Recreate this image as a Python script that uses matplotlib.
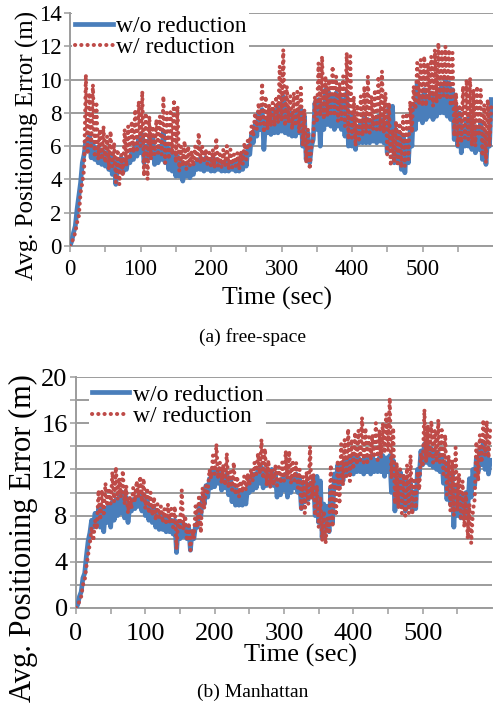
import numpy as np
import matplotlib
matplotlib.use("Agg")
import matplotlib.pyplot as plt

plt.rcParams['font.family'] = ['Liberation Serif', 'DejaVu Serif']

# time axis (sec), one envelope value every 5 s
t = np.arange(0, 600, 5)

# (a) free-space: low / high envelope of the fast oscillating error
fs_wo_lo = [0.0, 0.8, 2.2, 3.8, 5.5, 5.8, 5.3, 5.2, 5.0, 4.9,
            4.8, 4.6, 4.3, 3.7, 4.5, 4.4, 4.6, 5.0, 5.2, 5.4,
            5.6, 5.0, 5.2, 5.6, 4.9, 5.0, 5.2, 5.0, 4.6, 4.5,
            4.2, 4.2, 3.9, 4.2, 4.1, 4.3, 4.6, 4.6, 4.5, 4.6,
            4.5, 4.5, 4.6, 4.5, 4.5, 4.5, 4.6, 4.5, 4.5, 4.6,
            4.8, 5.5, 6.2, 6.6, 7.0, 5.8, 6.8, 6.7, 6.8, 6.8,
            6.9, 6.8, 6.7, 6.6, 6.6, 6.8, 6.0, 5.2, 5.0, 6.4,
            7.0, 6.0, 7.0, 7.3, 7.2, 7.0, 7.2, 7.0, 6.6, 6.0,
            6.0, 5.8, 6.2, 6.2, 6.2, 6.2, 6.3, 6.2, 6.3, 6.2,
            5.6, 6.0, 5.0, 5.0, 4.6, 4.4, 5.0, 6.0, 7.0, 7.6,
            7.4, 7.6, 7.8, 7.6, 7.8, 8.0, 8.0, 7.8, 7.6, 6.4,
            6.0, 5.6, 6.0, 6.0, 5.8, 5.6, 5.8, 5.2, 4.9, 6.0]
fs_wo_hi = [0.3, 1.2, 3.0, 5.0, 6.3, 6.6, 6.2, 5.9, 5.8, 5.7,
            5.6, 5.4, 5.3, 5.0, 5.3, 5.2, 5.3, 5.6, 6.0, 6.5,
            6.7, 6.0, 6.4, 6.6, 5.7, 6.0, 6.9, 6.0, 5.8, 5.6,
            5.4, 5.0, 4.8, 4.9, 4.7, 5.0, 5.2, 5.2, 5.3, 5.2,
            5.3, 5.2, 5.1, 5.0, 5.2, 5.0, 5.1, 5.1, 5.2, 5.6,
            6.0, 6.7, 7.3, 8.0, 8.2, 7.6, 7.8, 8.0, 8.2, 8.4,
            9.0, 8.2, 8.0, 7.8, 8.0, 8.2, 7.8, 6.8, 6.0, 8.6,
            8.8, 8.5, 9.4, 9.2, 9.0, 9.2, 9.0, 8.8, 9.2, 8.0,
            7.8, 7.0, 7.4, 7.8, 7.6, 7.5, 7.6, 7.8, 7.6, 7.4,
            8.4, 8.4, 7.0, 6.8, 6.6, 6.2, 7.0, 8.5, 9.8, 9.0,
            9.4, 9.0, 9.2, 9.0, 9.4, 9.6, 10.0, 9.8, 9.4, 8.4,
            8.0, 7.2, 7.6, 7.8, 7.2, 7.0, 7.4, 6.8, 6.6, 8.8]
fs_w_lo = [0.0, 0.5, 1.4, 3.2, 4.6, 5.5, 6.0, 5.5, 5.2, 5.2,
           5.0, 4.6, 4.8, 3.8, 3.7, 4.2, 4.8, 5.2, 5.6, 5.8,
           6.0, 4.2, 4.0, 5.2, 5.5, 5.6, 5.5, 5.0, 5.2, 5.5,
           5.0, 4.5, 4.8, 4.6, 4.8, 4.8, 5.0, 5.0, 5.0, 4.9,
           4.8, 4.7, 4.8, 4.7, 4.8, 4.6, 4.7, 4.8, 4.6, 4.9,
           5.2, 6.0, 6.6, 7.0, 7.3, 6.8, 7.0, 7.2, 7.2, 7.4,
           7.5, 7.2, 7.4, 7.0, 7.2, 6.8, 6.0, 5.0, 4.6, 6.5,
           7.4, 7.8, 7.6, 7.8, 7.8, 7.8, 7.5, 7.6, 7.2, 6.4,
           6.5, 6.0, 6.4, 6.6, 6.8, 6.8, 7.0, 7.0, 6.9, 6.8,
           5.5, 4.8, 5.0, 4.8, 4.7, 4.8, 5.2, 6.8, 8.2, 8.5,
           8.4, 8.4, 8.8, 8.4, 8.6, 8.8, 9.0, 8.8, 8.4, 6.6,
           6.0, 6.2, 6.5, 6.4, 6.0, 6.0, 6.6, 5.4, 5.0, 6.0]
fs_w_hi = [0.2, 0.8, 1.8, 3.8, 10.3, 9.2, 9.7, 8.5, 7.0, 7.2,
           6.6, 6.9, 6.2, 5.8, 5.5, 7.0, 7.2, 7.5, 8.2, 8.7,
           9.3, 8.0, 7.8, 7.2, 7.6, 7.8, 9.0, 8.0, 8.2, 8.8,
           8.4, 6.0, 6.3, 6.0, 5.7, 6.0, 6.8, 6.0, 5.8, 5.6,
           5.8, 6.5, 5.5, 5.8, 6.0, 5.8, 5.5, 5.6, 5.7, 6.2,
           6.5, 7.2, 8.0, 8.6, 9.8, 9.0, 8.5, 8.6, 9.0, 10.8,
           11.8, 9.6, 9.0, 9.2, 9.3, 9.5, 8.2, 7.0, 6.0, 9.0,
           11.0, 11.4, 10.2, 10.0, 10.8, 10.2, 9.8, 10.2, 11.6, 11.4,
           9.0, 8.5, 9.0, 9.6, 10.2, 9.0, 9.4, 10.2, 10.5, 9.2,
           8.6, 7.0, 7.5, 7.4, 7.8, 8.0, 8.7, 9.6, 11.0, 11.2,
           11.4, 11.0, 11.4, 11.8, 12.2, 11.8, 12.0, 11.8, 11.6, 9.2,
           8.5, 9.6, 10.0, 10.1, 9.4, 9.6, 9.4, 8.5, 8.8, 8.4]

# (b) Manhattan
mh_wo_lo = [0.0, 1.0, 2.6, 4.5, 6.5, 7.0, 7.2, 7.0, 6.6, 7.4,
            7.0, 7.6, 8.0, 8.2, 7.8, 7.4, 8.4, 8.6, 8.8, 8.4,
            8.0, 7.6, 7.4, 7.0, 6.8, 6.8, 6.6, 6.6, 6.4, 4.8,
            6.0, 6.2, 6.0, 5.0, 6.0, 7.0, 8.0, 9.0, 9.6, 10.4,
            10.5, 10.8, 10.2, 10.4, 9.8, 9.2, 8.9, 8.9, 8.9, 9.0,
            10.0, 10.2, 10.4, 10.8, 10.4, 10.6, 10.8, 10.6, 9.6, 9.8,
            10.2, 9.6, 10.0, 10.4, 10.0, 8.6, 9.2, 9.4, 9.8, 8.0,
            7.4, 6.1, 7.0, 6.6, 7.4, 10.4, 10.6, 11.0, 11.6, 11.8,
            11.6, 11.8, 11.8, 11.6, 11.8, 11.6, 11.8, 11.8, 11.8, 11.4,
            11.8, 10.0, 8.4, 9.0, 8.8, 8.4, 9.0, 8.4, 8.6, 11.4,
            12.4, 12.6, 12.4, 12.2, 12.0, 11.8, 10.8, 9.4, 9.0, 7.0,
            8.0, 7.8, 8.0, 8.6, 9.6, 10.6, 11.8, 12.4, 12.0, 11.6]
mh_wo_hi = [0.3, 1.4, 3.0, 5.8, 7.6, 8.2, 8.6, 8.8, 8.6, 9.0,
            9.2, 9.4, 9.8, 10.0, 9.6, 8.8, 9.4, 9.6, 9.8, 9.8,
            9.4, 8.8, 8.6, 8.4, 8.0, 8.0, 7.8, 7.6, 7.6, 7.2,
            7.4, 7.2, 7.0, 6.6, 7.2, 8.8, 9.6, 10.6, 11.2, 12.0,
            12.0, 11.8, 11.4, 11.6, 11.2, 10.6, 10.2, 10.0, 10.0, 10.4,
            11.4, 11.6, 12.0, 12.2, 12.0, 11.8, 12.0, 11.6, 11.0, 11.2,
            11.6, 11.2, 11.4, 11.6, 11.2, 10.8, 10.6, 10.8, 11.2, 11.4,
            11.0, 9.0, 8.8, 10.4, 11.6, 12.4, 12.4, 12.6, 12.8, 13.0,
            13.0, 13.0, 12.8, 13.0, 13.0, 13.2, 12.8, 13.0, 13.2, 13.0,
            13.2, 12.8, 11.6, 11.8, 11.4, 11.0, 10.8, 10.0, 12.0, 13.6,
            14.2, 14.0, 13.8, 13.6, 13.4, 13.2, 12.6, 11.8, 11.6, 10.6,
            10.0, 9.6, 10.0, 11.2, 12.0, 13.0, 13.8, 14.3, 13.6, 12.8]
mh_w_lo = [0.0, 0.6, 2.0, 3.6, 5.6, 5.8, 6.8, 7.6, 8.2, 8.8,
           9.0, 9.2, 9.4, 9.6, 9.0, 8.2, 8.6, 9.2, 9.6, 9.2,
           8.6, 8.2, 8.0, 7.6, 7.8, 7.4, 7.2, 7.4, 7.0, 5.1,
           7.0, 6.8, 5.8, 5.0, 6.0, 7.0, 6.5, 8.6, 10.0, 11.2,
           11.6, 11.2, 10.8, 10.6, 10.4, 10.2, 9.8, 9.6, 10.0, 10.2,
           10.6, 11.0, 11.6, 11.6, 11.2, 10.6, 10.4, 10.6, 10.6, 10.8,
           11.0, 11.2, 10.8, 11.0, 10.4, 8.4, 8.2, 9.0, 9.4, 8.0,
           7.0, 5.8, 5.6, 6.4, 7.0, 8.0, 9.0, 10.6, 11.4, 11.0,
           12.0, 12.4, 12.8, 12.6, 12.4, 12.8, 13.0, 12.8, 13.0, 13.4,
           13.6, 11.2, 9.0, 8.6, 8.2, 8.0, 8.2, 8.1, 8.6, 10.2,
           12.2, 12.6, 13.0, 12.6, 12.6, 12.4, 11.6, 9.8, 8.4, 8.0,
           8.4, 7.6, 7.0, 6.0, 5.6, 9.4, 11.0, 12.6, 13.2, 13.0]
mh_w_hi = [0.2, 1.0, 2.4, 4.6, 7.0, 7.6, 10.2, 10.2, 10.8, 10.4,
           11.8, 12.2, 11.2, 11.9, 10.6, 9.6, 10.4, 11.0, 11.4, 11.2,
           10.4, 10.0, 9.6, 9.0, 8.8, 8.6, 9.0, 8.6, 8.8, 7.6,
           10.2, 8.0, 7.4, 6.8, 8.8, 9.8, 10.4, 10.6, 12.0, 13.2,
           14.2, 12.6, 12.4, 13.4, 11.8, 12.6, 11.4, 11.0, 11.4, 11.6,
           12.0, 12.6, 13.4, 14.6, 13.8, 12.8, 12.0, 12.4, 12.2, 12.6,
           13.6, 13.6, 12.8, 12.6, 12.0, 11.4, 11.8, 14.0, 11.6, 10.6,
           9.6, 8.4, 7.8, 12.4, 11.0, 12.8, 14.2, 14.6, 15.5, 14.6,
           15.2, 15.4, 16.5, 15.6, 14.8, 15.0, 16.0, 15.4, 16.0, 16.8,
           18.2, 15.6, 12.6, 12.0, 11.6, 12.4, 13.2, 11.0, 11.8, 13.4,
           17.2, 15.8, 16.2, 15.4, 16.3, 15.4, 15.0, 13.2, 12.8, 13.9,
           11.6, 11.0, 10.0, 9.0, 8.4, 14.4, 15.0, 16.3, 16.2, 15.6]

blue = '#4a7ebb'
red = '#be4b48'
grid_c = '#9c9c9c'


def zigzag(lo, hi):
    # the series swings between its low and high value every sample
    x = np.column_stack([t, t + 2.5]).ravel()
    y = np.column_stack([lo, hi]).ravel()
    return x, y


def style(ax, ymax, major, minor, fs, xpad):
    ax.set_xlim(0, 600)
    ax.set_ylim(0, ymax)
    ax.set_xticks(np.arange(0, 501, 100))
    ax.set_xticks(np.arange(50, 600, 100), minor=True)
    ax.set_yticks(np.arange(0, ymax + 1, major))
    if minor:
        ax.set_yticks(np.arange(minor, ymax, major), minor=True)
    ax.yaxis.grid(True, which='both', color=grid_c, lw=1.4)
    ax.set_axisbelow(True)
    for s in ['top', 'right']:
        ax.spines[s].set_visible(False)
    for s in ['left', 'bottom']:
        ax.spines[s].set_color(grid_c)
        ax.spines[s].set_linewidth(1.4)
    ax.tick_params(which='both', direction='out', length=4, width=1.1,
                   color=grid_c, labelsize=fs)
    ax.tick_params(axis='y', pad=2)
    ax.tick_params(axis='x', pad=xpad)


fig = plt.figure(figsize=(4.93, 7.06), dpi=100)
W, H = 493.0, 706.0
ax1 = fig.add_axes([70 / W, 1 - 246 / H, 423 / W, 233 / H])
ax2 = fig.add_axes([76 / W, 1 - 608 / H, 416 / W, 231 / H])

panels = [(ax1, fs_wo_lo, fs_wo_hi, fs_w_lo, fs_w_hi),
          (ax2, mh_wo_lo, mh_wo_hi, mh_w_lo, mh_w_hi)]
for ax, wo_lo, wo_hi, w_lo, w_hi in panels:
    x, y = zigzag(wo_lo, wo_hi)
    ax.plot(x, y, color=blue, lw=3.4, label='w/o reduction', zorder=3)
    x, y = zigzag(w_lo, w_hi)
    ax.plot(x, y, color=red, lw=2.9, linestyle=(0, (0.05, 1.5)),
            dash_capstyle='round', label='w/ reduction', zorder=4)

style(ax1, 14, 2, None, 16.5, 5.5)
style(ax2, 20, 4, 2, 19, 6.5)

for ax, anchor in [(ax1, (0, 1.01)), (ax2, (0.026, 0.99))]:
    leg = ax.legend(loc='upper left', bbox_to_anchor=anchor, fontsize=17,
                    handlelength=1.6, handletextpad=0.15, labelspacing=0.0,
                    borderpad=0.1, borderaxespad=0.1, frameon=True,
                    fancybox=False, framealpha=1, facecolor='white',
                    edgecolor='none')
    leg.set_zorder(10)

# labels, placed like the reference
fig.text(27 / W, 1 - 145 / H, 'Avg. Positioning Error (m)', rotation=90,
         ha='center', va='center', fontsize=18)
fig.text(277 / W, 1 - 298 / H, 'Time (sec)', ha='center', va='center', fontsize=18.5)
fig.text(252 / W, 1 - 337 / H, '(a) free-space', ha='center', va='center', fontsize=14)

fig.text(23 / W, 1 - 538 / H, 'Avg. Positioning Error (m)', rotation=90,
         ha='center', va='center', fontsize=22)
fig.text(300 / W, 1 - 655 / H, 'Time (sec)', ha='center', va='center', fontsize=19)
fig.text(253 / W, 1 - 692 / H, '(b) Manhattan', ha='center', va='center', fontsize=14)

fig.savefig('out.png', dpi=100)
